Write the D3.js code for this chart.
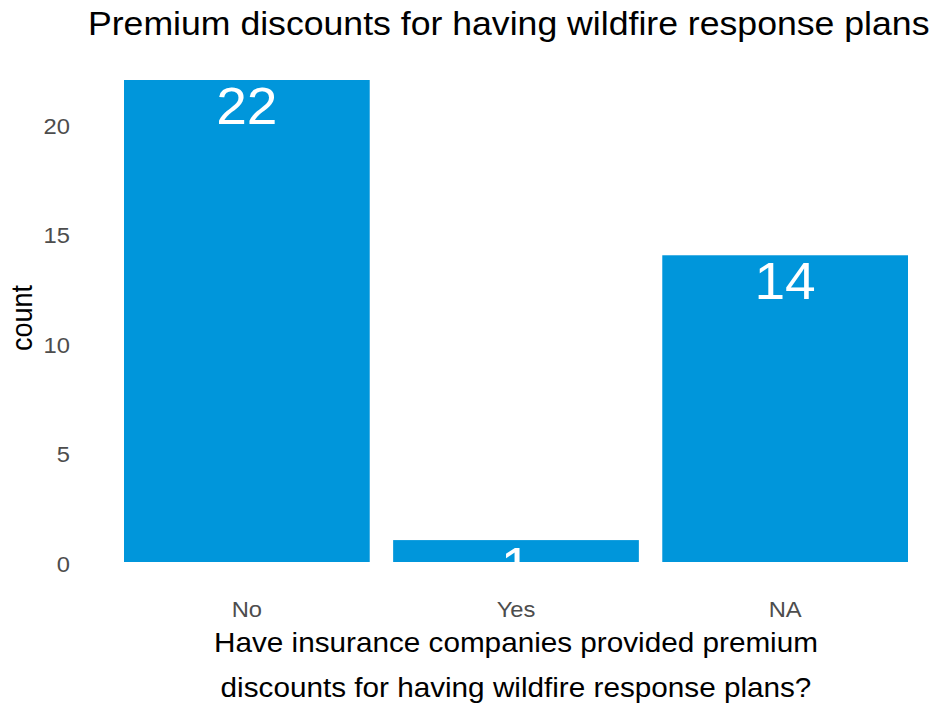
<!DOCTYPE html>
<html>
<head>
<meta charset="utf-8">
<script src="https://cdn.jsdelivr.net/npm/d3@7"></script>
<style>
  html, body { margin: 0; padding: 0; background: #fff; }
  svg { display: block; font-family: "Liberation Sans", Arial, sans-serif; }
</style>
</head>
<body>
<div id="chart"></div>
<script>
const categories = ["No", "Yes", "NA"];
const counts = [22, 1, 14];
const yTicks = [0, 5, 10, 15, 20];
const titleText = "Premium discounts for having wildfire response plans";
const xTitleLines = ["Have insurance companies provided premium", "discounts for having wildfire response plans?"];
const yTitleText = "count";

const W = 947, H = 706;
const SX = 1.08; // horizontal stretch of the reference picture
const barColor = "#0096DB";

const svg = d3.select("#chart").append("svg").attr("width", W).attr("height", H);
const root = svg.append("g").attr("transform", `scale(${SX},1)`);
const X = v => v / SX; // real px -> inner coords

const x = d3.scaleBand().domain(categories).range([X(124), X(908)])
  .paddingInner(0.087).paddingOuter(0);
const y = d3.scaleLinear().domain([0, 22]).range([562, 80]);

svg.append("defs").append("clipPath").attr("id", "panel")
  .append("rect").attr("x", 0).attr("y", 0).attr("width", W).attr("height", 562);

const panel = root.append("g").attr("clip-path", "url(#panel)");
panel.selectAll("rect.bar").data(counts).join("rect")
  .attr("class", "bar")
  .attr("x", (d, i) => x(categories[i]))
  .attr("width", x.bandwidth())
  .attr("y", d => y(d))
  .attr("height", d => y(0) - y(d))
  .attr("fill", barColor);

panel.selectAll("text.lab").data(counts).join("text")
  .attr("class", "lab")
  .attr("x", (d, i) => x(categories[i]) + x.bandwidth() / 2)
  .attr("y", d => y(d) + 44)
  .attr("text-anchor", "middle")
  .attr("font-size", 51)
  .attr("fill", "#fff")
  .text(d => d);

// y axis
const yAxis = d3.axisLeft(y).tickValues(yTicks).tickSize(0).tickPadding(0);
const gy = root.append("g").attr("transform", `translate(${X(70)},1.5)`).call(yAxis);
gy.select(".domain").remove();
gy.selectAll("text").attr("font-size", 22).attr("fill", "#4D4D4D")
  .attr("font-family", "Liberation Sans, Arial, sans-serif").attr("dy", "0.36em");

// x axis
const xAxis = d3.axisBottom(x).tickSize(0).tickPadding(0);
const gx = root.append("g").attr("transform", `translate(0,617)`).call(xAxis);
gx.select(".domain").remove();
gx.selectAll("text").attr("font-size", 22).attr("fill", "#4D4D4D")
  .attr("font-family", "Liberation Sans, Arial, sans-serif").attr("dy", 0).attr("y", 0);

// titles
root.append("text").attr("x", X(88)).attr("y", 35)
  .attr("font-size", 33).attr("fill", "#000").text(titleText);

root.selectAll("text.xt").data(xTitleLines).join("text")
  .attr("class", "xt")
  .attr("x", X(516)).attr("y", (d, i) => 652 + i * 45)
  .attr("text-anchor", "middle").attr("font-size", 27.5).attr("fill", "#000")
  .text(d => d);

root.append("text")
  .attr("transform", `translate(${X(32)},318) rotate(-90)`)
  .attr("text-anchor", "middle").attr("font-size", 27).attr("fill", "#000")
  .text(yTitleText);
</script>
</body>
</html>
